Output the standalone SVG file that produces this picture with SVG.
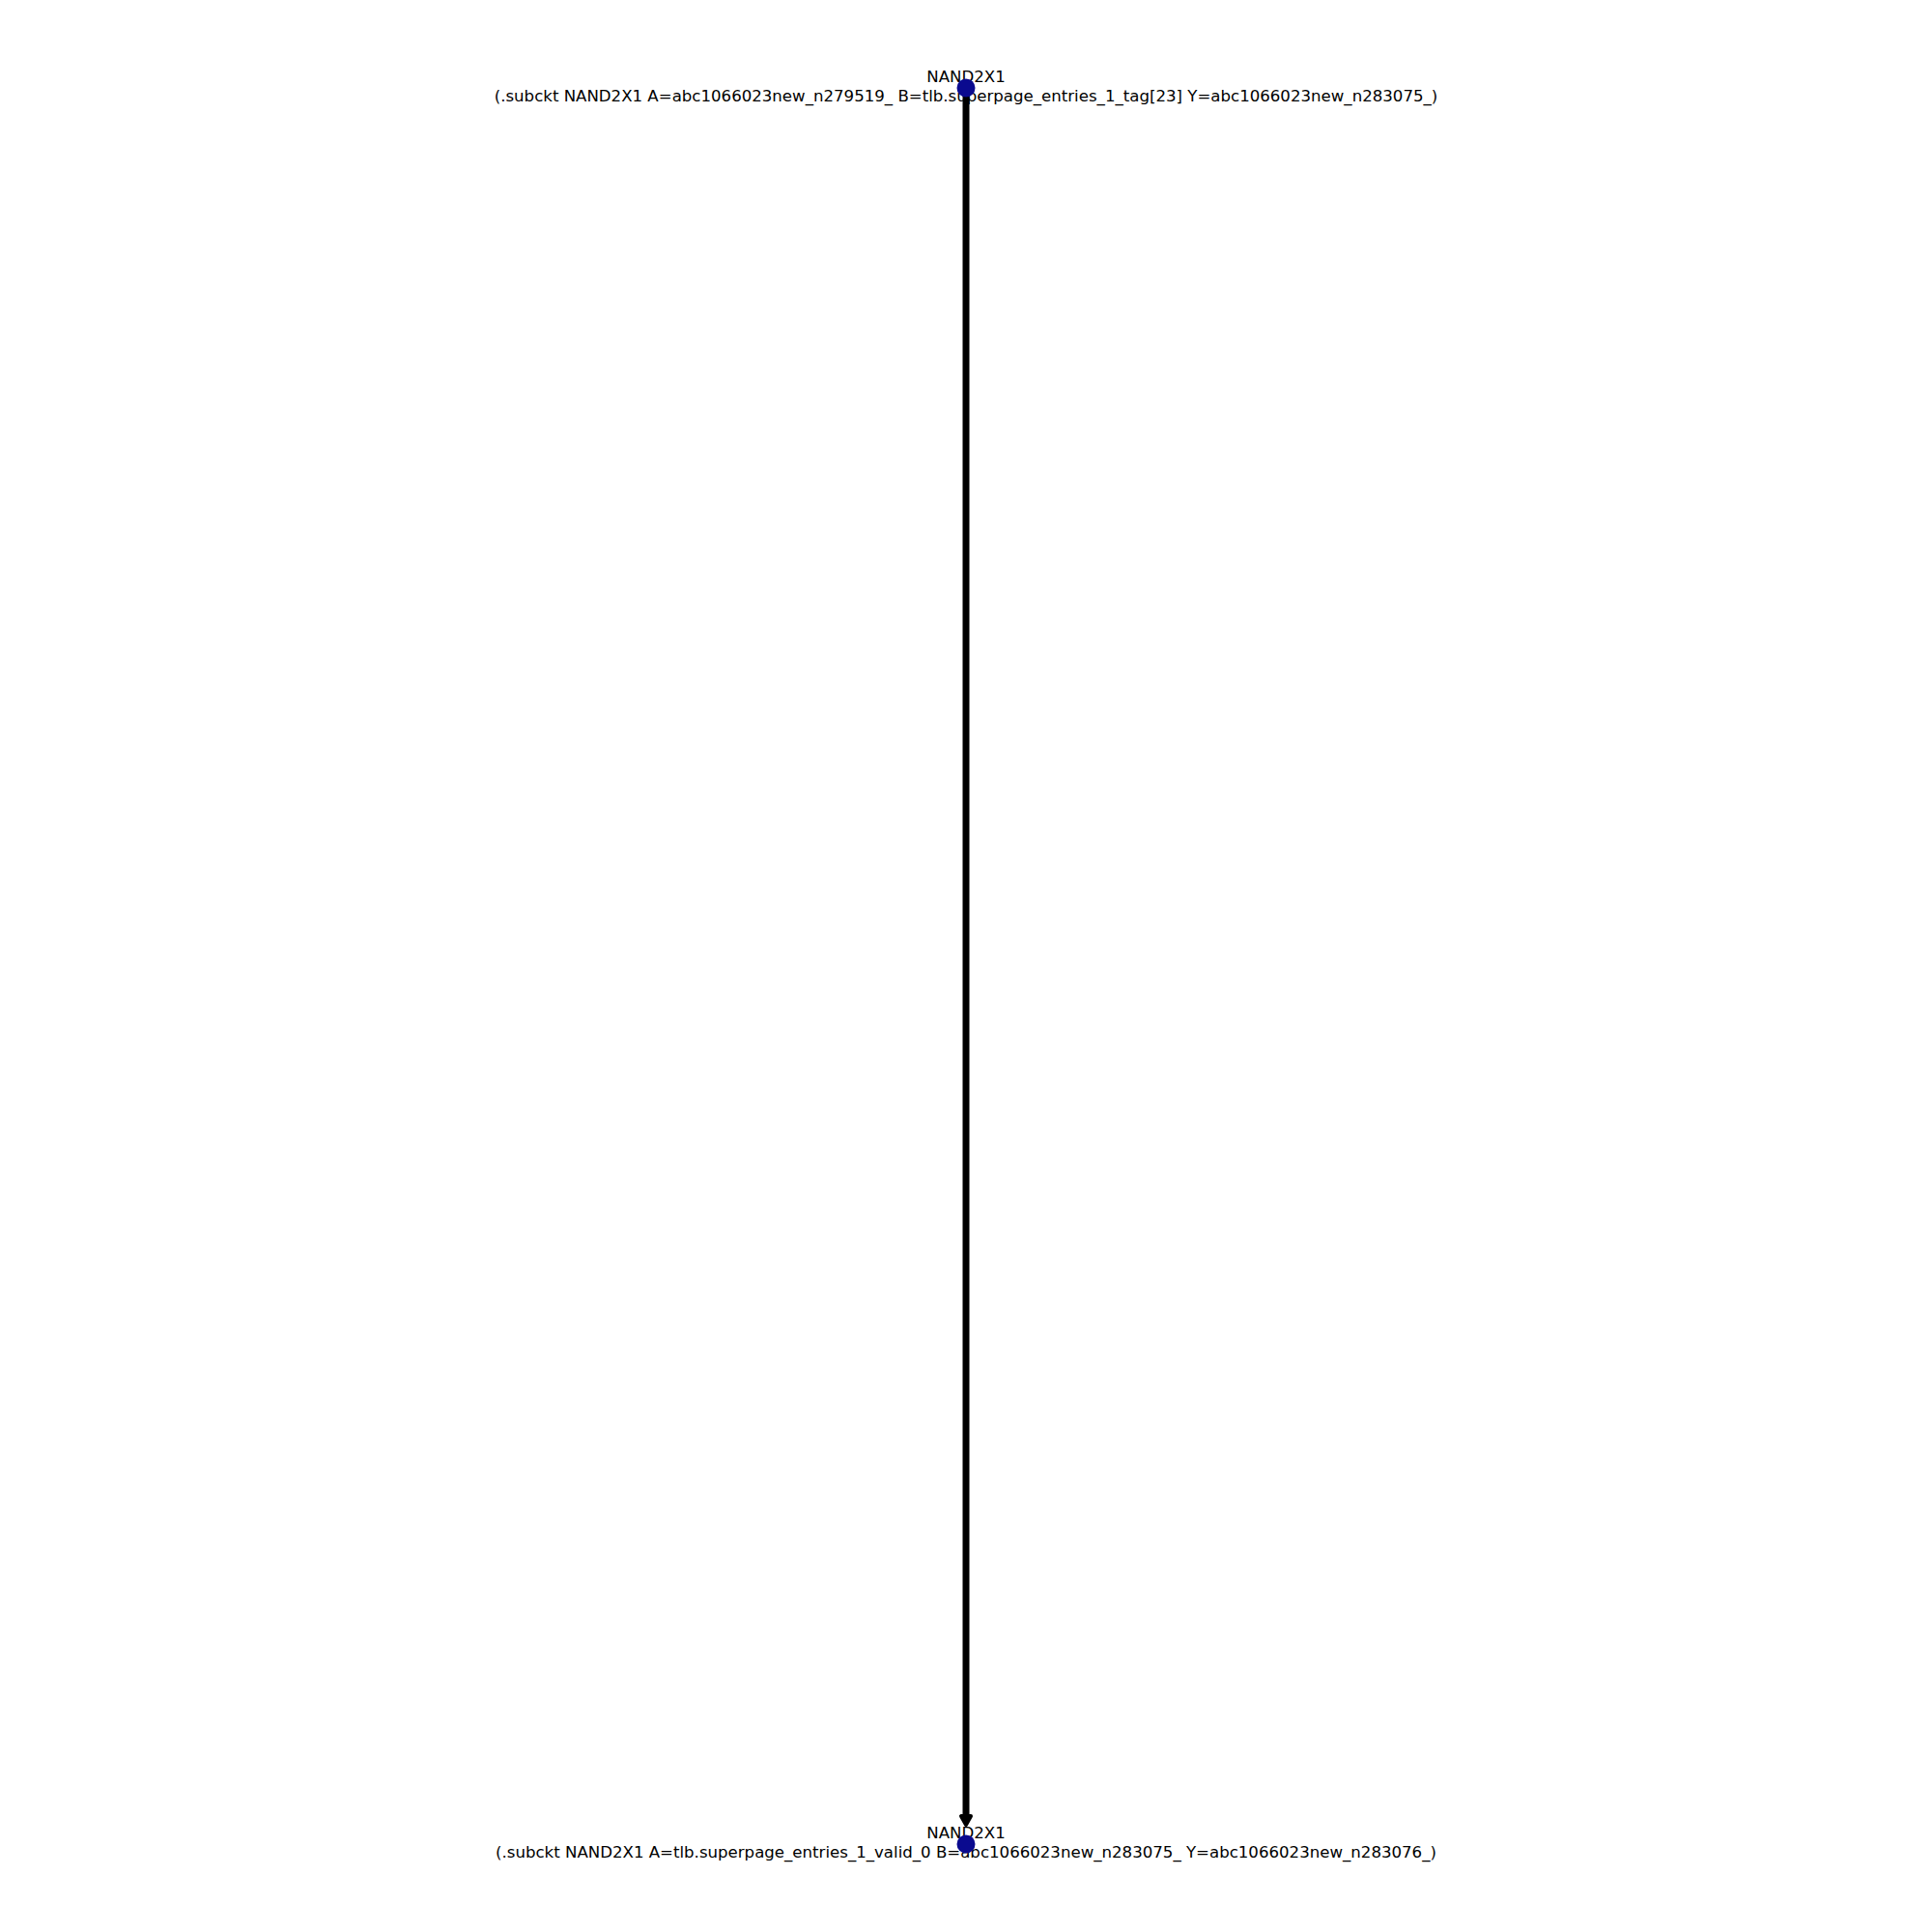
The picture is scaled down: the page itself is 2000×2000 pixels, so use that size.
<svg xmlns="http://www.w3.org/2000/svg" width="2000" height="2000" viewBox="0 0 2000 2000">
<style>
.lbl{font-family:"DejaVu Sans","Liberation Sans",sans-serif;font-size:16.6px;fill:#000;text-anchor:middle}
.node{fill:#0a0a8f}
.edge{stroke:#000;stroke-width:7;fill:none}
.head{fill:#000;stroke:#000;stroke-width:4;stroke-linejoin:round}
</style>
<rect width="2000" height="2000" fill="#fff"/>
<g id="connectors">
<line class="edge" x1="1000" y1="91" x2="1000" y2="1880"/>
<path class="head" d="M995,1880 L1005,1880 L1000,1889 Z"/>
</g>
<g id="node1">
<text class="lbl" x="1000" y="85">NAND2X1</text>
<text class="lbl" x="1000" y="105">(.subckt NAND2X1 A=abc1066023new_n279519_ B=tlb.superpage_entries_1_tag[23] Y=abc1066023new_n283075_)</text>
<circle class="node" cx="1000" cy="91" r="9.5"/>
</g>
<g id="node2">
<text class="lbl" x="1000" y="1903">NAND2X1</text>
<text class="lbl" x="1000" y="1923">(.subckt NAND2X1 A=tlb.superpage_entries_1_valid_0 B=abc1066023new_n283075_ Y=abc1066023new_n283076_)</text>
<circle class="node" cx="1000" cy="1909" r="9.5"/>
</g>
</svg>
